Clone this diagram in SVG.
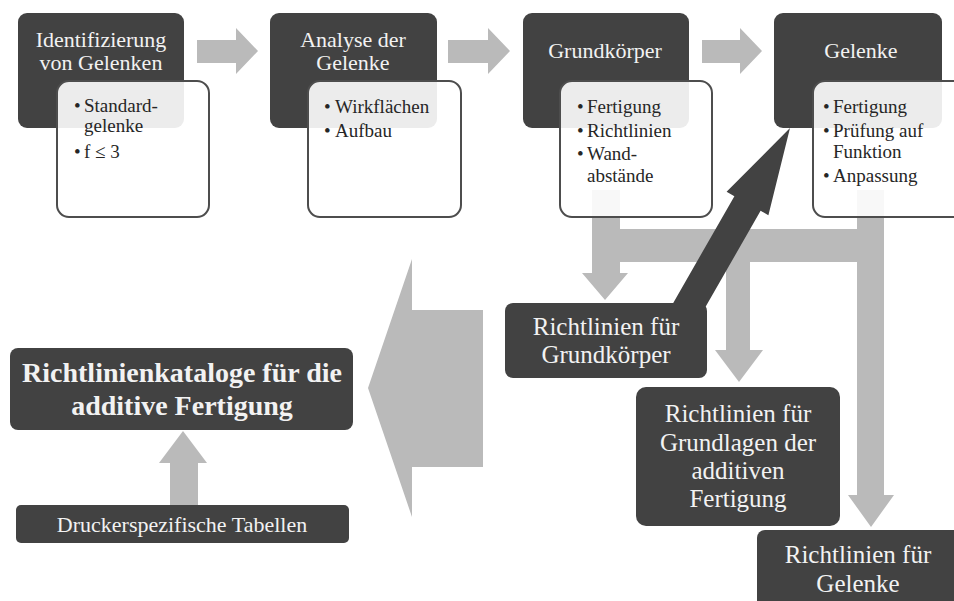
<svg xmlns="http://www.w3.org/2000/svg" width="954" height="601" viewBox="0 0 954 601">
  <style>
    .dark { fill: #424242; }
    .note { fill: #ffffff; fill-opacity: 0.9; stroke: #4d4d4d; stroke-width: 2; }
    .flow { fill: #bababa; }
    .push { fill: #424242; }
    .head { font-family: "Liberation Serif", "Times New Roman", serif; fill: #f2f2f2; text-anchor: middle; }
    .item { font-family: "Liberation Serif", "Times New Roman", serif; fill: #262626; font-size: 19px; }
  </style>
  <rect width="954" height="601" fill="#ffffff"/>

  <!-- connectors -->
  <g id="connectors">
    <!-- step arrows along the top row -->
    <polygon class="flow" points="197,40 236,40 236,28 258,51 236,74 236,63 197,63"/>
    <polygon class="flow" points="448,40 488,40 488,28 510,51 488,74 488,63 448,63"/>
    <polygon class="flow" points="702,40 740,40 740,28 762,51 740,74 740,63 702,63"/>
    <!-- branch from Grundkörper / Gelenke down to the guideline boxes -->
    <polygon class="flow" points="592,190 620,190 620,229 857,229 857,190 884,190 884,495 894,495 871,527 848,495 857,495 857,262 750,262 750,350 763,350 739,382 715,350 726,350 726,262 620,262 620,273 628,273 605,300 582,273 592,273"/>
    <!-- large arrow into the catalogue -->
    <polygon class="flow" points="483,310 412,310 412,259 368,388 412,517 412,467 483,467"/>
    <!-- Druckerspezifische Tabellen up to catalogue -->
    <polygon class="flow" points="170,505 170,463 159,463 183,431 207,463 198,463 198,505"/>
    <!-- feedback from Richtlinien für Grundkörper to Gelenke -->
    <polygon class="push" points="661.9,322.7 734.4,196.2 726.6,191.8 790,128 768.4,215.2 760.6,210.8 688.1,337.3"/>
  </g>

  <g id="identifizierung">
    <rect class="dark" x="18" y="13" width="166" height="115" rx="9"/>
    <text class="head" font-size="22" x="101" y="47">Identifizierung</text>
    <text class="head" font-size="22" x="101" y="70">von Gelenken</text>
    <rect class="note" x="57" y="81" width="152" height="136" rx="12"/>
    <text class="item" x="74" y="112">•</text>
    <text class="item" x="84" y="112">Standard-</text>
    <text class="item" x="84" y="132">gelenke</text>
    <text class="item" x="74" y="158">•</text>
    <text class="item" x="84" y="158">f ≤ 3</text>
  </g>

  <g id="analyse">
    <rect class="dark" x="270" y="13" width="167" height="115" rx="9"/>
    <text class="head" font-size="22" x="353" y="47">Analyse der</text>
    <text class="head" font-size="22" x="353" y="70">Gelenke</text>
    <rect class="note" x="308" y="81" width="153" height="136" rx="12"/>
    <text class="item" x="324" y="113">•</text>
    <text class="item" x="335" y="113">Wirkflächen</text>
    <text class="item" x="324" y="137">•</text>
    <text class="item" x="335" y="137">Aufbau</text>
  </g>

  <g id="grundkoerper">
    <rect class="dark" x="523" y="13" width="166" height="115" rx="9"/>
    <text class="head" font-size="22" x="605" y="58">Grundkörper</text>
    <rect class="note" x="560" y="81" width="152" height="136" rx="12"/>
    <text class="item" x="577" y="113">•</text>
    <text class="item" x="587" y="113">Fertigung</text>
    <text class="item" x="577" y="137">•</text>
    <text class="item" x="587" y="137">Richtlinien</text>
    <text class="item" x="577" y="160">•</text>
    <text class="item" x="587" y="160">Wand-</text>
    <text class="item" x="587" y="182">abstände</text>
  </g>

  <g id="gelenke">
    <rect class="dark" x="774" y="13" width="168" height="115" rx="9"/>
    <text class="head" font-size="22" x="861" y="58">Gelenke</text>
    <rect class="note" x="813" y="81" width="153" height="136" rx="12"/>
    <text class="item" x="823" y="113">•</text>
    <text class="item" x="833" y="113">Fertigung</text>
    <text class="item" x="823" y="137">•</text>
    <text class="item" x="833" y="137">Prüfung auf</text>
    <text class="item" x="833" y="158">Funktion</text>
    <text class="item" x="823" y="182">•</text>
    <text class="item" x="833" y="182">Anpassung</text>
  </g>

  <g id="rl-grundkoerper">
    <rect class="dark" x="505" y="303" width="202" height="75" rx="8"/>
    <text class="head" font-size="25" x="606" y="335">Richtlinien für</text>
    <text class="head" font-size="25" x="606" y="363">Grundkörper</text>
  </g>

  <g id="rl-grundlagen">
    <rect class="dark" x="636" y="387" width="204" height="139" rx="10"/>
    <text class="head" font-size="25" x="738" y="422">Richtlinien für</text>
    <text class="head" font-size="25" x="738" y="451">Grundlagen der</text>
    <text class="head" font-size="25" x="738" y="479">additiven</text>
    <text class="head" font-size="25" x="738" y="507">Fertigung</text>
  </g>

  <g id="rl-gelenke">
    <rect class="dark" x="757" y="530" width="204" height="85" rx="8"/>
    <text class="head" font-size="25" x="858" y="563">Richtlinien für</text>
    <text class="head" font-size="25" x="858" y="592">Gelenke</text>
  </g>

  <g id="katalog">
    <rect class="dark" x="10" y="348" width="343" height="82" rx="8"/>
    <text class="head" font-size="28" font-weight="bold" x="182" y="382">Richtlinienkataloge für die</text>
    <text class="head" font-size="28" font-weight="bold" x="182" y="415">additive Fertigung</text>
  </g>

  <g id="tabellen">
    <rect class="dark" x="16" y="505" width="333" height="38" rx="5"/>
    <text class="head" font-size="22" x="182" y="532">Druckerspezifische Tabellen</text>
  </g>
</svg>
